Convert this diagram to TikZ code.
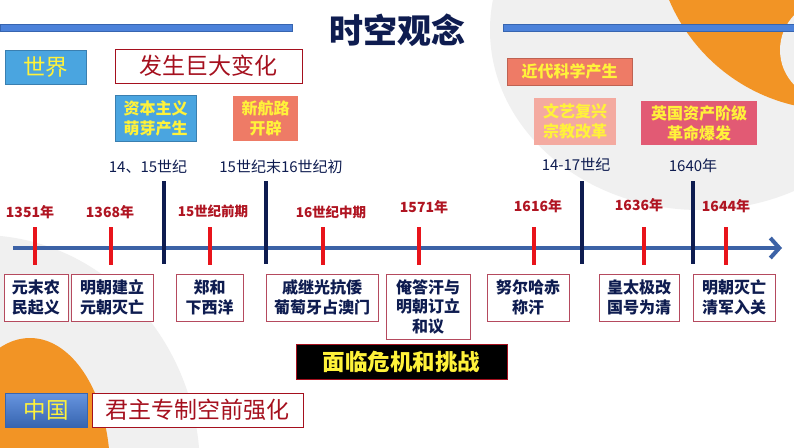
\documentclass[tikz,border=0pt]{standalone}
\usepackage{fontspec}
\setmainfont{Noto Sans CJK SC}
\usetikzlibrary{arrows.meta}

\definecolor{navy}{HTML}{0E1C50}
\definecolor{darkred}{HTML}{A5101E}
\definecolor{datered}{HTML}{B01522}
\definecolor{tickred}{HTML}{E8141B}
\definecolor{axisblue}{HTML}{3C62A6}
\definecolor{barblue}{HTML}{4C82DA}
\definecolor{baredge}{HTML}{3765B0}
\definecolor{tagblue}{HTML}{4AA5E0}
\definecolor{tagedge}{HTML}{3A7FB0}
\definecolor{tagyellow}{HTML}{FFF23A}
\definecolor{salmon}{HTML}{EE7B66}
\definecolor{palepink}{HTML}{F4AAA0}
\definecolor{rose}{HTML}{E25A74}
\definecolor{eventedge}{HTML}{B54A5E}
\definecolor{bggrey}{HTML}{F0F0F0}
\definecolor{orangebg}{HTML}{F29425}

\begin{document}
\begin{tikzpicture}[
		x=1pt, y=-1pt,
		>=Latex,
		title/.style={
			font=\bfseries\fontsize{34}{38}\selectfont,
			text=navy,
			inner sep=0pt
		},
		tagbox/.style={
			fill=tagblue,
			draw=tagedge,
			line width=0.8pt,
			text=tagyellow,
			font=\fontsize{22.5}{26}\selectfont,
			inner sep=0pt
		},
		headbox/.style={
			fill=white,
			draw=darkred,
			line width=0.9pt,
			text=darkred,
			font=\fontsize{23}{27}\selectfont,
			inner sep=0pt
		},
		worldbox/.style={
			text=tagyellow,
			font=\bfseries\fontsize{16}{20}\selectfont,
			align=center,
			inner sep=0pt
		},
		eventbox/.style={
			fill=white,
			draw=eventedge,
			line width=0.7pt,
			text=navy,
			font=\bfseries\fontsize{16}{19.5}\selectfont,
			align=center,
			inner sep=0pt,
			minimum height=47pt
		},
		datered/.style={
			text=datered,
			font=\bfseries\fontsize{14}{16}\selectfont,
			inner sep=0pt
		},
		datenavy/.style={
			text=navy,
			font=\fontsize{15}{17}\selectfont,
			inner sep=0pt
		},
		redtick/.style={draw=tickred, line width=3.5pt},
		navytick/.style={draw=navy, line width=3.5pt},
		timeaxis/.style={
			draw=axisblue,
			line width=4pt,
			-{Straight Barb[length=9pt,width=20pt]}
		}
	]
	\useasboundingbox (0,0) rectangle (794,447);

	% background
	\begin{scope}
		\clip (0,0) rectangle (794,447);
		\fill[white] (0,0) rectangle (794,447);
		\fill[bggrey] (700,30) ellipse [x radius=210, y radius=180];
		\fill[bggrey] (-20,470) ellipse [x radius=220, y radius=235];
		\fill[orangebg] (30,470) ellipse [x radius=80, y radius=132];
		\fill[orangebg] (835,-70) circle (180);
		\fill[bggrey] (830,50) circle (50);
	\end{scope}

	\fill[barblue, draw=baredge, line width=0.6pt] (0,24) rectangle (292,31);
	\fill[barblue, draw=baredge, line width=0.6pt] (503,24) rectangle (794,31);

	\node[title] (title) at (397,30) {时空观念};

	% world
	\node[tagbox, minimum width=81pt, minimum height=34pt] (world) at (45.5,67) {世界};
	\node[headbox, minimum width=187pt, minimum height=34pt] (change) at (208.5,66) {发生巨大变化};
	\node[worldbox, fill=tagblue, draw=tagedge, line width=0.6pt, minimum width=81pt, minimum height=46pt] (sprout) at (155.5,118) {资本主义\\萌芽产生};
	\node[worldbox, fill=salmon, minimum width=65pt, minimum height=45pt] (route) at (265.5,118.5) {新航路\\开辟};
	\node[worldbox, fill=salmon, draw=salmon!80!black, line width=0.5pt, minimum width=125pt, minimum height=27pt] (science) at (569.5,71.5) {近代科学产生};
	\node[worldbox, fill=palepink, minimum width=82pt, minimum height=47pt] (renais) at (575,121.5) {文艺复兴\\宗教改革};
	\node[worldbox, fill=rose, minimum width=116pt, minimum height=44pt] (england) at (699,123) {英国资产阶级\\革命爆发};

	% time axis
	\coordinate (axstart) at (13,248);
	\coordinate (axend) at (782,248);
	\draw[timeaxis] (axstart) -- (axend);

	\foreach \x in {35,111,210,323,419,534,644,726}
		\draw[redtick] (\x,227) -- (\x,265);
	\foreach \x in {164,266,582,693}
		\draw[navytick] (\x,181) -- (\x,264);

	\node[datered] (d1351) at (30,212) {1351年};
	\node[datered] (d1368) at (110,212) {1368年};
	\node[datered, font=\bfseries\fontsize{13.5}{16}\selectfont] (d15) at (213,211) {15世纪前期};
	\node[datered, font=\bfseries\fontsize{13.5}{16}\selectfont] (d16) at (331,212) {16世纪中期};
	\node[datered] (d1571) at (424,207) {1571年};
	\node[datered] (d1616) at (538,206) {1616年};
	\node[datered] (d1636) at (639,205) {1636年};
	\node[datered] (d1644) at (726,206) {1644年};

	\node[datenavy] (c1415) at (148,167) {14、15世纪};
	\node[datenavy] (c1516) at (281,167) {15世纪末16世纪初};
	\node[datenavy] (c1417) at (576,165) {14-17世纪};
	\node[datenavy] (c1640) at (693,166) {1640年};

	% events in China
	\node[eventbox, minimum width=64pt] (revolt) at (36,297.5) {元末农\\民起义};
	\node[eventbox, minimum width=82pt] (mingup) at (112,297.5) {明朝建立\\元朝灭亡};
	\node[eventbox, minimum width=67pt] (zhenghe) at (209.5,297.5) {郑和\\下西洋};
	\node[eventbox, minimum width=112pt] (qijg) at (322,297.5) {戚继光抗倭\\葡萄牙占澳门};
	\node[eventbox, minimum width=84pt, minimum height=65pt] (altan) at (428,306.5) {俺答汗与\\明朝订立\\和议};
	\node[eventbox, minimum width=82pt] (nurhaci) at (528,297.5) {努尔哈赤\\称汗};
	\node[eventbox, minimum width=80pt] (hongtaiji) at (639,297.5) {皇太极改\\国号为清};
	\node[eventbox, minimum width=82pt] (mingend) at (734,297.5) {明朝灭亡\\清军入关};

	\node[fill=black, draw=darkred, line width=0.6pt, text=tagyellow, font=\bfseries\fontsize{22.5}{26}\selectfont, inner sep=0pt, minimum width=211pt, minimum height=35pt] (crisis) at (401.5,361.5) {面临危机和挑战};

	% china
	\node[tagbox, top color=barblue!85!white, bottom color=baredge, draw=baredge, minimum width=82pt, minimum height=34pt] (china) at (46,410) {中国};
	\node[headbox, minimum width=211pt, minimum height=34pt] (autocracy) at (197.5,410) {君主专制空前强化};
\end{tikzpicture}
\end{document}
